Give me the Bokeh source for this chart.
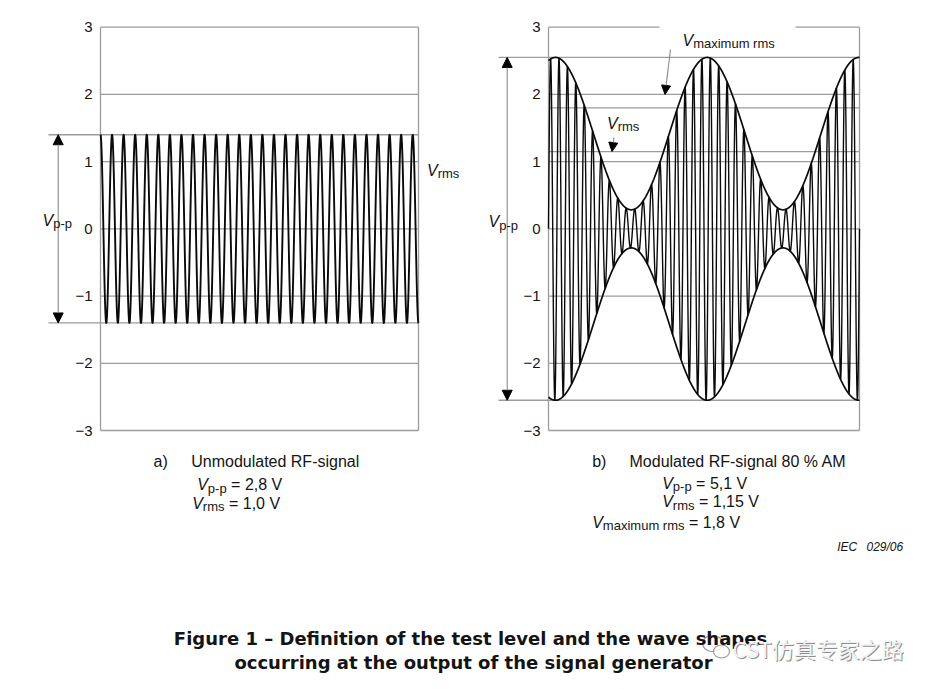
import numpy as np
from bokeh.plotting import figure
from bokeh.models import Range1d, FixedTicker, Label, Arrow, NormalHead
from bokeh.layouts import column, row
from bokeh.embed import file_html
from bokeh.resources import INLINE

# ---------------- data ----------------
y_ticks = [-3, -2, -1, 0, 1, 2, 3]
y_tick_labels = ["\u22123", "\u22122", "\u22121", "0", "1", "2", "3"]
grid_levels = [-2, -1, 0, 1, 2]

# a) unmodulated RF signal
a_vpp = 2.8
a_vrms = 1.0
a_cycles = 27.5          # carrier cycles across the panel (starts at a crest)

# b) modulated RF signal, 80 % AM
b_vpp = 5.1
b_vrms = 1.15
b_vmax_rms = 1.8
b_mod_depth = 0.8
b_carrier_cycles = 37    # carrier cycles across the panel (starts at zero)
b_mod_cycles = 2.05      # modulation periods across the panel
b_mod_first_peak = 0.0225  # panel fraction of the first envelope crest

# ---------------- styling ----------------
FONT = "Liberation Sans"
TXT = "#141414"
GRID = "#9c9c9c"
SHAFT = "#8a8a8a"
WAVE = "#0a0a0a"
SUB_DY = 3.5      # subscript centre sits this many px below the main letter centre

# ---------------- page geometry (pixels) ----------------
TOP_H = 440
Y3_PX, YM3_PX = 26.7, 430.0            # page rows of +3 and -3
PX_PER_V = (YM3_PX - Y3_PX) / 6.0
Y_START = -3 - (TOP_H - YM3_PX) / PX_PER_V
Y_END = 3 + Y3_PX / PX_PER_V


def yv(img_y):
    return 3 - (img_y - Y3_PX) / PX_PER_V


# Arial-compatible advance widths (per 1000 em)
W = {" ": 278, "=": 584, ",": 278, "V": 667, "p": 556, "-": 333, "r": 333, "m": 833,
     "s": 500, "a": 556, "x": 500, "i": 222, "u": 556}
for d in "0123456789":
    W[d] = 556


def tw(s, size):
    return sum(W.get(c, 556) for c in s) * size / 1000.0


def make_panel(fig_x0, fig_w, border_l, pan_l, pan_r):
    fr_l = fig_x0 + border_l
    fr_r = fig_x0 + fig_w
    span = pan_r - pan_l
    xr = Range1d((fr_l - pan_l) / span, (fr_r - pan_l) / span)
    p = figure(width=fig_w, height=TOP_H, x_range=xr, y_range=Range1d(Y_START, Y_END),
               output_backend="svg", toolbar_location=None, x_axis_type=None,
               min_border_left=border_l, min_border_right=0, min_border_top=0,
               min_border_bottom=0)
    ya = p.yaxis[0]
    ya.fixed_location = 0
    ya.ticker = FixedTicker(ticks=y_ticks)
    ya.major_label_overrides = {t: l for t, l in zip(y_ticks, y_tick_labels)}
    ya.axis_line_color = None
    ya.major_tick_line_color = None
    ya.minor_tick_line_color = None
    ya.major_tick_out = 0
    ya.major_tick_in = 0
    ya.minor_tick_out = 0
    ya.minor_tick_in = 0
    ya.major_label_standoff = 8
    ya.major_label_text_font = FONT
    ya.major_label_text_font_size = "15px"
    ya.major_label_text_color = TXT
    p.grid.visible = False
    p.outline_line_color = None
    p.background_fill_color = "white"
    p.border_fill_color = "white"
    p.segment(x0=0, x1=1, y0=grid_levels, y1=grid_levels, line_color=GRID, line_width=1.3)
    xpx = lambda img_x: (img_x - pan_l) / span
    return p, xpx


def box(p, top_gap=None):
    lo, hi = y_ticks[0], y_ticks[-1]
    p.segment(x0=[0, 1, 0], x1=[0, 1, 1], y0=[lo, lo, lo], y1=[hi, hi, lo],
              line_color=GRID, line_width=1.3)
    if top_gap is None:
        p.segment(x0=[0], x1=[1], y0=[hi], y1=[hi], line_color=GRID, line_width=1.3)
    else:
        p.segment(x0=[0, top_gap[1]], x1=[top_gap[0], 1], y0=[hi, hi], y1=[hi, hi],
                  line_color=GRID, line_width=1.3)


def dbl_arrow(p, x, y0, y1):
    p.add_layout(Arrow(x_start=x, y_start=y0, x_end=x, y_end=y1,
                       start=NormalHead(size=10, fill_color="black", line_color="black", line_width=1),
                       end=NormalHead(size=10, fill_color="black", line_color="black", line_width=1),
                       line_color=SHAFT, line_width=1.1))


def pointer(p, x0, y0, x1, y1):
    p.add_layout(Arrow(x_start=x0, y_start=y0, x_end=x1, y_end=y1,
                       end=NormalHead(size=9, fill_color="black", line_color="black", line_width=1),
                       line_color=SHAFT, line_width=1.1))


def vlabel(p, x_img, mid_img, sub, to_x, main_size=16, sub_size=13):
    p.add_layout(Label(x=to_x(x_img), y=yv(mid_img), text="V", text_font=FONT,
                       text_font_style="italic", text_font_size=f"{main_size}px",
                       text_color=TXT, text_baseline="middle", text_align="left"))
    xs = x_img + tw("V", main_size)
    p.add_layout(Label(x=to_x(xs), y=yv(mid_img + SUB_DY), text=sub, text_font=FONT,
                       text_font_size=f"{sub_size}px", text_color=TXT,
                       text_baseline="middle", text_align="left"))


# ---------------- panel a ----------------
SPLIT = 459
pa, ax = make_panel(0, SPLIT, 32, 100, 418)
ua = np.linspace(0, 1, 6000)
amp_a = a_vpp / 2
ya_ = amp_a * np.cos(2 * np.pi * a_cycles * ua)
box(pa)
pa.segment(x0=[ax(48)] * 2, x1=[1, 1], y0=[amp_a, -amp_a], y1=[amp_a, -amp_a],
           line_color=GRID, line_width=1.3)
pa.line(ua, ya_, line_color=WAVE, line_width=1.9)
dbl_arrow(pa, ax(57.7), amp_a, -amp_a)
vlabel(pa, 42, 219.5, "p-p", ax)
vlabel(pa, 426.5, 169.5, "rms", ax)

# ---------------- panel b ----------------
pb, bx = make_panel(SPLIT, 940 - SPLIT, 27, 548, 859)
ub = np.linspace(0, 1, 9000)
carrier_amp = (b_vpp / 2) / (1 + b_mod_depth)
env = carrier_amp * (1 + b_mod_depth * np.cos(2 * np.pi * b_mod_cycles * (ub - b_mod_first_peak)))
yb = env * np.sin(2 * np.pi * b_carrier_cycles * ub)

box(pb, top_gap=(bx(659), bx(795)))
pb.segment(x0=[0, 0], x1=[1, 1], y0=[b_vmax_rms, b_vrms], y1=[b_vmax_rms, b_vrms],
           line_color=GRID, line_width=1.3)
pb.segment(x0=[bx(498)] * 2, x1=[1, 1], y0=[b_vpp / 2, -b_vpp / 2], y1=[b_vpp / 2, -b_vpp / 2],
           line_color=GRID, line_width=1.3)
pb.line(ub, yb, line_color=WAVE, line_width=1.4)
pb.line(ub, env, line_color=WAVE, line_width=1.7)
pb.line(ub, -env, line_color=WAVE, line_width=1.7)
dbl_arrow(pb, bx(506.7), b_vpp / 2, -b_vpp / 2)
vlabel(pb, 488, 221, "p-p", bx)
vlabel(pb, 682, 39.5, "maximum rms", bx)
pointer(pb, bx(670), yv(49), bx(664.5), 2.0)
vlabel(pb, 606.5, 122.5, "rms", bx)
pointer(pb, bx(613.5), yv(137), bx(611.5), b_vrms)

# ---------------- captions / title ----------------
BOT_Y0 = TOP_H
BOT_H = 689 - TOP_H
bot = figure(width=940, height=BOT_H, x_range=Range1d(0, 940), y_range=Range1d(BOT_H, 0),
             output_backend="svg", toolbar_location=None, x_axis_type=None, y_axis_type=None,
             min_border_left=0, min_border_right=0, min_border_top=0, min_border_bottom=0)
bot.grid.visible = False
bot.outline_line_color = None
bot.background_fill_color = "white"
bot.border_fill_color = "white"


def btext(x_img, y_mid, text, size=16, style="normal", align="left", font=FONT, color=TXT):
    bot.add_layout(Label(x=x_img, y=y_mid - BOT_Y0, text=text, text_font=font,
                         text_font_size=f"{size}px", text_font_style=style, text_color=color,
                         text_align=align, text_baseline="middle"))


def bvalue(x_img, mid, sub, rest):
    btext(x_img, mid, "V", style="italic")
    xs = x_img + tw("V", 16)
    btext(xs, mid + SUB_DY, sub, size=13)
    xr = xs + tw(sub, 13) + tw(" ", 16)
    btext(xr, mid, rest)


fmt = lambda v, nd: f"= {v:.{nd}f} V".replace(".", ",")

btext(153, 461, "a)")
btext(190.7, 461, "Unmodulated RF-signal")
bvalue(196.7, 484, "p-p", fmt(a_vpp, 1))
bvalue(191.7, 502.5, "rms", fmt(a_vrms, 1))

btext(591.7, 461, "b)")
btext(629, 461, "Modulated RF-signal 80 % AM")
bvalue(661.7, 482.5, "p-p", fmt(b_vpp, 1))
bvalue(661.7, 501, "rms", fmt(b_vrms, 2))
bvalue(591.7, 521.5, "maximum rms", fmt(b_vmax_rms, 1))
btext(836.7, 546.5, "IEC", size=12, style="italic")
btext(902.7, 546.5, "029/06", size=12, style="italic", align="right")

btext(470, 638, "Figure 1 \u2013 Definition of the test level and the wave shapes", size=18,
      style="bold", align="center", font="DejaVu Sans")
btext(473, 662, "occurring at the output of the signal generator", size=18,
      style="bold", align="center", font="DejaVu Sans")

# watermark
bot.ellipse(x=[712, 721], y=[643 - BOT_Y0, 651 - BOT_Y0], width=[20, 16], height=[16, 13],
            fill_color="white", fill_alpha=0.85, line_color="#9a9a9a", line_width=1.2)
btext(733, 648, "CST仿真专家之路", size=22, font="Noto Sans CJK SC", color="#8e8e8e")
btext(732, 647, "CST仿真专家之路", size=22, font="Noto Sans CJK SC", color="#f2f2f2")

layout = column(row(pa, pb), bot)
open("out.html", "w").write(file_html(layout, INLINE))
